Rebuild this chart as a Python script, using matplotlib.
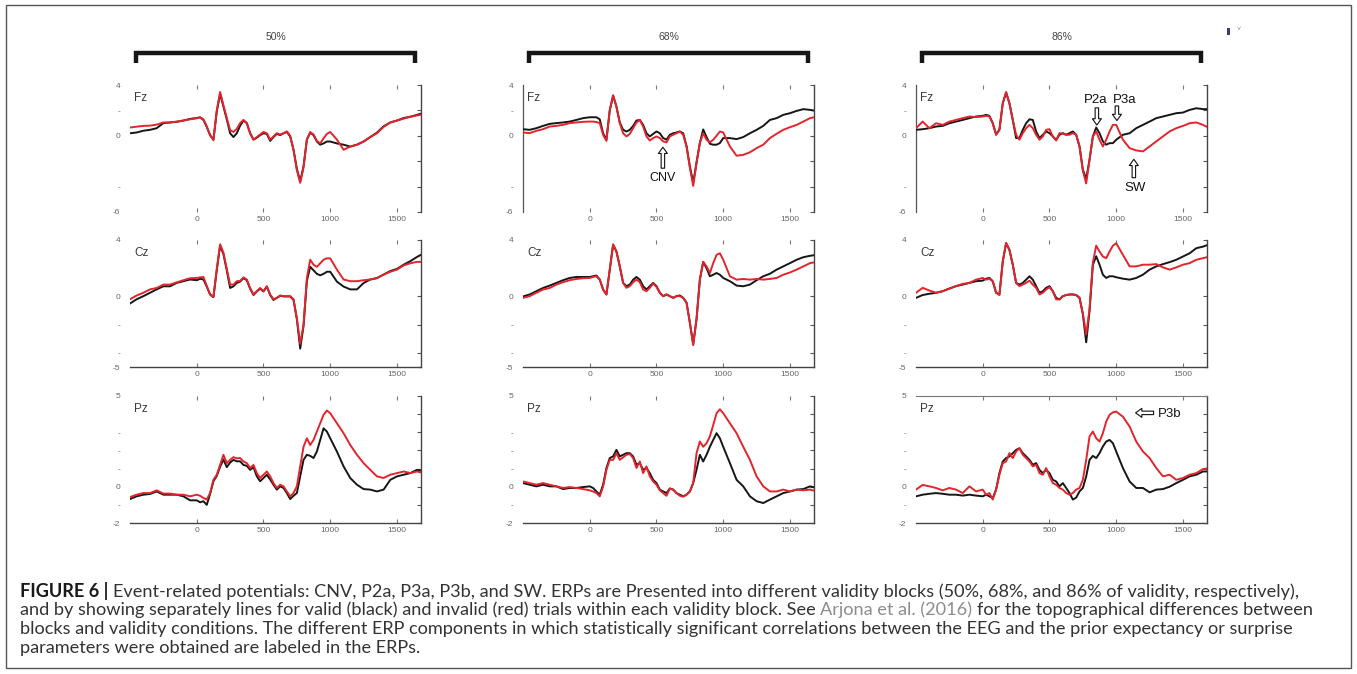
import matplotlib
matplotlib.use("Agg")
import matplotlib.pyplot as plt
from matplotlib.patches import Rectangle

# time axis of the ERPs (ms)
times = [-500, -450, -400, -350, -300, -250, -200, -150, -100, -50,
         0, 25, 50, 75, 100, 125, 150, 175, 200, 225,
         250, 275, 300, 325, 350, 375, 400, 425, 450, 475,
         500, 525, 550, 575, 600, 625, 650, 675, 700, 725,
         750, 775, 800, 825, 850, 875, 900, 925, 950, 975,
         1000, 1050, 1100, 1150, 1200, 1250, 1300, 1350, 1400, 1450,
         1500, 1550, 1600, 1650, 1700]

blocks = ["50%", "68%", "86%"]
channels = ["Fz", "Cz", "Pz"]

# ---- 50% block ----
fz50_valid = [0.2, 0.26, 0.4, 0.47, 0.6, 1.0, 1.05, 1.1, 1.2, 1.33,
              1.4, 1.45, 1.25, 0.7, 0.05, -0.3, 1.9, 3.3, 2.3, 1.3,
              0.2, -0.1, 0.2, 0.8, 1.2, 1.0, 0.2, -0.3, -0.15, 0.05,
              0.2, 0.15, -0.4, -0.1, 0.15, 0.05, 0.2, 0.3, -0.05, -1.1,
              -2.6, -3.6, -2.4, -0.3, 0.25, 0.05, -0.45, -0.7, -0.6, -0.45,
              -0.45, -0.6, -0.7, -0.85, -0.7, -0.45, -0.1, 0.25, 0.75, 1.05,
              1.2, 1.4, 1.5, 1.65, 1.8]
fz50_invalid = [0.65, 0.72, 0.78, 0.8, 0.88, 1.05, 1.05, 1.12, 1.2, 1.3,
                1.38, 1.45, 1.3, 0.75, 0.05, -0.35, 2.0, 3.45, 2.4, 1.4,
                0.45, 0.3, 0.55, 1.0, 1.25, 1.0, 0.2, -0.3, -0.1, 0.1,
                0.3, 0.2, -0.3, -0.05, 0.2, 0.1, 0.2, 0.35, 0.0, -1.1,
                -2.7, -3.7, -2.5, -0.3, 0.3, 0.1, -0.4, -0.6, -0.2, 0.15,
                0.3, -0.3, -1.1, -0.85, -0.7, -0.45, -0.1, 0.2, 0.7, 1.05,
                1.2, 1.35, 1.5, 1.6, 1.7]
cz50_valid = [-0.5, -0.2, 0.02, 0.26, 0.5, 0.72, 0.72, 0.96, 1.08, 1.2,
              1.15, 1.25, 1.2, 0.7, 0.14, -0.05, 1.85, 3.6, 3.0, 1.85,
              0.6, 0.72, 0.96, 1.05, 1.3, 1.15, 0.55, 0.1, 0.35, 0.55,
              0.35, 0.7, 0.1, -0.25, -0.1, 0.05, 0.0, 0.0, 0.0, -0.25,
              -1.6, -3.7, -2.1, 1.1, 2.1, 1.85, 1.6, 1.5, 1.6, 1.75,
              1.75, 1.05, 0.7, 0.5, 0.5, 0.95, 1.2, 1.3, 1.55, 1.8,
              1.95, 2.25, 2.5, 2.8, 3.05]
cz50_invalid = [-0.2, 0.07, 0.26, 0.5, 0.6, 0.84, 0.84, 1.0, 1.15, 1.29,
                1.31, 1.35, 1.38, 0.75, 0.14, -0.02, 1.95, 3.7, 3.1, 1.95,
                0.84, 0.84, 1.08, 1.1, 1.35, 1.2, 0.6, 0.14, 0.37, 0.6,
                0.37, 0.72, 0.14, -0.2, -0.1, 0.07, 0.02, 0.02, 0.02, -0.2,
                -1.55, -3.35, -2.0, 1.3, 2.6, 2.25, 2.1, 2.35, 2.6, 2.7,
                2.7, 1.9, 1.2, 1.08, 1.08, 1.15, 1.2, 1.3, 1.55, 1.75,
                1.9, 2.2, 2.35, 2.45, 2.45]
pz50_valid = [-0.68, -0.53, -0.44, -0.4, -0.26, -0.44, -0.44, -0.44, -0.53, -0.75,
              -0.75, -0.86, -0.8, -1.0, -0.4, 0.3, 0.6, 1.1, 1.5, 1.08,
              1.33, 1.48, 1.4, 1.4, 1.2, 1.15, 0.93, 1.08, 0.57, 0.3,
              0.48, 0.66, 0.4, 0.11, -0.16, 0.02, -0.07, -0.35, -0.68, -0.5,
              -0.35, 0.57, 1.48, 1.76, 1.7, 1.58, 1.94, 2.58, 3.22, 3.04,
              2.67, 1.94, 1.12, 0.48, 0.11, -0.13, -0.16, -0.26, -0.16, 0.38,
              0.57, 0.66, 0.75, 0.93, 0.84]
pz50_invalid = [-0.57, -0.44, -0.35, -0.35, -0.2, -0.38, -0.38, -0.44, -0.44, -0.53,
                -0.44, -0.5, -0.62, -0.71, -0.35, 0.38, 0.66, 1.2, 1.76, 1.3,
                1.48, 1.63, 1.56, 1.58, 1.39, 1.3, 1.03, 1.2, 0.75, 0.48,
                0.66, 0.84, 0.57, 0.2, -0.07, 0.11, 0.02, -0.26, -0.53, -0.35,
                0.02, 1.12, 2.2, 2.67, 2.3, 2.58, 3.04, 3.5, 3.96, 4.2,
                4.05, 3.5, 2.95, 2.3, 1.76, 1.3, 0.93, 0.57, 0.48, 0.66,
                0.75, 0.84, 0.75, 0.84, 0.75]

# ---- 68% block ----
fz68_valid = [0.52, 0.47, 0.6, 0.78, 0.94, 1.0, 1.05, 1.12, 1.25, 1.39,
              1.46, 1.46, 1.46, 1.3, 0.2, -0.3, 2.0, 3.15, 2.3, 1.05,
              0.47, 0.34, 0.47, 0.78, 1.2, 1.25, 0.86, 0.2, -0.05, 0.15,
              0.34, 0.2, -0.18, -0.3, 0.08, 0.2, 0.26, 0.34, 0.2, -0.8,
              -2.4, -3.7, -2.1, -0.55, 0.5, -0.1, -0.63, -0.7, -0.7, -0.57,
              -0.18, -0.18, -0.26, -0.1, 0.2, 0.47, 0.78, 1.25, 1.39, 1.65,
              1.78, 1.96, 2.1, 2.04, 1.95]
fz68_invalid = [0.26, 0.21, 0.39, 0.52, 0.73, 0.78, 0.86, 1.0, 1.05, 1.1,
                1.12, 1.12, 1.08, 1.0, 0.08, -0.4, 2.04, 3.2, 2.3, 1.0,
                0.2, -0.05, 0.15, 0.6, 1.05, 1.25, 0.73, -0.05, -0.37, -0.18,
                -0.05, -0.18, -0.44, -0.52, -0.05, 0.08, 0.2, 0.34, 0.08, -0.84,
                -2.5, -3.95, -2.15, -0.57, 0.2, -0.31, -0.52, -0.31, 0.0, 0.34,
                0.26, -0.84, -1.57, -1.5, -1.3, -0.97, -0.7, -0.18, 0.16, 0.47,
                0.68, 0.86, 1.12, 1.39, 1.5]
cz68_valid = [0.0, 0.14, 0.37, 0.6, 0.77, 0.96, 1.15, 1.31, 1.38, 1.38,
              1.38, 1.43, 1.48, 1.2, 0.5, 0.14, 1.9, 3.65, 3.18, 2.13,
              0.96, 0.73, 0.84, 1.19, 1.38, 1.19, 0.73, 0.49, 0.73, 0.96,
              0.73, 0.26, 0.02, 0.14, 0.02, -0.1, 0.02, 0.07, -0.1, -0.44,
              -1.85, -3.4, -1.6, 1.2, 2.45, 2.0, 1.43, 1.54, 1.66, 1.54,
              1.31, 1.08, 0.77, 0.72, 0.84, 1.15, 1.43, 1.61, 1.9, 2.13,
              2.36, 2.6, 2.78, 2.88, 2.95]
cz68_invalid = [-0.1, 0.02, 0.26, 0.49, 0.6, 0.84, 1.01, 1.15, 1.24, 1.29,
                1.31, 1.38, 1.43, 1.19, 0.49, 0.14, 1.9, 3.7, 3.2, 2.13,
                0.96, 0.61, 0.73, 1.01, 1.19, 1.01, 0.49, 0.37, 0.61, 0.91,
                0.68, 0.26, 0.02, 0.14, 0.02, -0.1, 0.02, 0.02, -0.1, -0.44,
                -1.85, -3.45, -1.6, 1.2, 2.45, 2.13, 1.66, 2.36, 2.95, 3.06,
                2.6, 1.43, 1.19, 1.24, 1.19, 1.24, 1.19, 1.24, 1.31, 1.54,
                1.7, 1.9, 2.13, 2.36, 2.45]
pz68_valid = [0.2, 0.11, 0.02, 0.11, 0.02, 0.02, -0.13, -0.07, -0.07, -0.02,
              0.02, -0.07, -0.26, -0.44, 0.11, 1.03, 1.58, 1.67, 2.03, 1.67,
              1.76, 1.85, 1.85, 1.67, 1.21, 1.3, 0.93, 1.03, 0.75, 0.38,
              0.2, -0.16, -0.26, -0.35, -0.1, -0.16, -0.35, -0.44, -0.53, -0.44,
              -0.26, 0.2, 0.93, 1.76, 1.39, 1.76, 2.2, 2.58, 2.95, 2.67,
              2.2, 1.3, 0.38, 0.02, -0.53, -0.8, -0.9, -0.71, -0.53, -0.35,
              -0.26, -0.16, -0.13, 0.02, -0.07]
pz68_invalid = [0.29, 0.2, 0.11, 0.2, 0.11, 0.02, -0.07, -0.02, -0.07, -0.13,
                -0.2, -0.26, -0.35, -0.53, 0.0, 0.93, 1.48, 1.48, 1.85, 1.48,
                1.62, 1.76, 1.8, 1.58, 1.03, 1.39, 0.75, 1.12, 0.57, 0.29,
                0.11, -0.2, -0.35, -0.5, -0.1, -0.16, -0.35, -0.5, -0.55, -0.44,
                -0.26, 0.2, 1.85, 2.49, 2.2, 2.4, 2.77, 3.4, 4.05, 4.27,
                4.05, 3.5, 2.95, 2.2, 1.48, 0.57, 0.02, -0.26, -0.26, -0.16,
                -0.26, -0.16, -0.2, -0.16, -0.26]

# ---- 86% block ----
fz86_valid = [0.47, 0.52, 0.6, 0.73, 0.78, 0.99, 1.12, 1.25, 1.39, 1.52,
              1.57, 1.65, 1.57, 0.99, 0.1, 0.5, 2.56, 3.4, 2.56, 1.25,
              -0.18, -0.18, 0.47, 0.99, 1.3, 1.25, 0.34, -0.18, 0.08, 0.34,
              0.21, -0.05, -0.31, 0.08, 0.21, 0.08, 0.21, 0.34, 0.08, -0.84,
              -2.67, -3.4, -1.88, -0.05, 0.65, 0.2, -0.44, -0.7, -0.58, -0.58,
              -0.31, 0.08, 0.2, 0.6, 0.86, 1.12, 1.39, 1.52, 1.65, 1.78,
              1.83, 2.04, 2.17, 2.1, 2.1]
fz86_invalid = [0.6, 1.12, 0.6, 0.99, 0.86, 1.12, 1.25, 1.39, 1.52, 1.47,
                1.52, 1.57, 1.52, 0.99, 0.08, 0.45, 2.56, 3.45, 2.56, 1.25,
                0.08, -0.31, 0.21, 0.6, 0.86, 0.6, 0.08, -0.31, -0.05, 0.47,
                0.52, -0.05, -0.37, 0.21, 0.16, 0.08, 0.08, 0.21, 0.08, -0.84,
                -2.75, -3.75, -1.9, -0.05, 0.34, -0.31, -0.84, -0.31, 0.34, 0.86,
                0.86, -0.31, -0.97, -1.15, -1.23, -0.84, -0.44, -0.05, 0.34, 0.6,
                0.78, 0.99, 1.05, 0.86, 0.6]
cz86_valid = [-0.1, 0.1, 0.19, 0.26, 0.37, 0.56, 0.73, 0.84, 0.96, 1.08,
              1.12, 1.26, 1.31, 1.08, 0.26, 0.14, 2.48, 3.77, 3.3, 2.25,
              0.96, 0.84, 0.96, 1.19, 1.43, 1.19, 0.73, 0.26, 0.37, 0.61,
              0.73, 0.37, -0.1, -0.21, 0.02, 0.1, 0.14, 0.14, 0.1, -0.1,
              -1.26, -3.25, -1.03, 2.25, 2.85, 2.25, 1.54, 1.31, 1.43, 1.43,
              1.36, 1.26, 1.19, 1.31, 1.54, 1.9, 2.13, 2.29, 2.43, 2.6,
              2.83, 3.06, 3.42, 3.53, 3.7]
cz86_invalid = [0.26, 0.61, 0.42, 0.26, 0.37, 0.56, 0.73, 0.89, 0.96, 1.19,
                1.31, 1.19, 1.26, 1.08, 0.26, 0.1, 2.48, 3.8, 3.3, 2.25,
                0.96, 0.73, 0.84, 0.96, 1.12, 0.84, 0.61, 0.14, 0.26, 0.49,
                0.66, 0.37, -0.21, -0.21, 0.02, 0.1, 0.14, 0.14, 0.1, -0.1,
                -1.2, -2.7, -0.9, 2.4, 3.6, 3.18, 2.83, 2.71, 3.18, 3.6,
                3.77, 2.95, 2.13, 2.13, 2.25, 2.25, 2.29, 2.06, 1.9, 2.06,
                2.25, 2.36, 2.6, 2.71, 2.83]
pz86_valid = [-0.53, -0.44, -0.39, -0.35, -0.39, -0.44, -0.44, -0.49, -0.44, -0.49,
              -0.53, -0.44, -0.53, -0.62, -0.16, 0.75, 1.39, 1.58, 1.67, 1.85,
              2.03, 2.12, 1.85, 1.67, 1.48, 1.21, 1.3, 0.93, 0.75, 0.93,
              0.75, 0.38, 0.29, 0.02, 0.2, -0.07, -0.35, -0.71, -0.6, -0.26,
              -0.07, 0.57, 1.48, 1.7, 1.58, 1.85, 2.22, 2.49, 2.58, 2.4,
              1.94, 1.03, 0.29, -0.07, -0.07, -0.31, -0.16, -0.13, 0.0, 0.2,
              0.38, 0.57, 0.66, 0.84, 0.84]
pz86_invalid = [-0.16, 0.1, 0.02, -0.07, -0.2, -0.07, -0.16, -0.35, 0.02, -0.26,
                -0.16, -0.44, -0.35, -0.71, -0.16, 0.66, 1.3, 1.39, 1.85, 1.58,
                1.94, 2.12, 1.76, 1.58, 1.39, 1.12, 1.21, 0.75, 0.66, 1.03,
                0.57, 0.2, 0.11, -0.07, -0.16, -0.35, -0.44, -0.35, -0.16, -0.07,
                0.38, 1.48, 2.77, 3.04, 2.67, 2.49, 2.95, 3.59, 3.96, 4.1,
                4.14, 3.86, 3.32, 2.49, 1.94, 1.58, 1.03, 0.57, 0.66, 0.38,
                0.48, 0.66, 0.75, 0.97, 1.03]

valid = [[fz50_valid, cz50_valid, pz50_valid],
         [fz68_valid, cz68_valid, pz68_valid],
         [fz86_valid, cz86_valid, pz86_valid]]
invalid = [[fz50_invalid, cz50_invalid, pz50_invalid],
           [fz68_invalid, cz68_invalid, pz68_invalid],
           [fz86_invalid, cz86_invalid, pz86_invalid]]

ylims = {"Fz": (-6, 4), "Cz": (-5, 4), "Pz": (-2, 5)}
yticks = {"Fz": [-6, -4, -2, 0, 2, 4],
          "Cz": [-5, -4, -2, 0, 4],
          "Pz": [-2, -1, 0, 1, 2, 3, 4, 5]}
ytick_labels = {"Fz": ["-6", "-", "", "0", "-", "4"],
                "Cz": ["-5", "-", "-", "0", "4"],
                "Pz": ["-2", "-", "0", "-", "-", "-", "", "5"]}
xticks = [0, 500, 1000, 1500]

caption = [
    [("FIGURE 6 |", "bold", "#1a1a1a"),
     ("Event-related potentials: CNV, P2a, P3a, P3b, and SW. ERPs are Presented into different validity "
      "blocks (50%, 68%, and 86% of validity, respectively),", "normal", "#333333")],
    [("and by showing separately lines for valid (black) and invalid (red) trials within each validity block. See",
      "normal", "#333333"),
     ("Arjona et al. (2016)", "normal", "#8c8c8c"),
     ("for the topographical differences between", "normal", "#333333")],
    [("blocks and validity conditions. The different ERP components in which statistically significant "
      "correlations between the EEG and the prior expectancy or surprise", "normal", "#333333")],
    [("parameters were obtained are labeled in the ERPs.", "normal", "#333333")],
]

W, H = 1357, 674
plt.rcParams["font.family"] = ["Liberation Sans", "DejaVu Sans"]
cap_family = ["Lato", "Liberation Sans", "DejaVu Sans"]

fig = plt.figure(figsize=(W / 100, H / 100), dpi=100)
fig.patch.set_facecolor("white")

col_left = [130, 523, 916]
row_top = [85, 240, 396]
ax_w, ax_h = 291, 127

BLACK = "#161616"
RED = "#e2252d"

axes = {}
for c in range(3):
    for r, ch in enumerate(channels):
        ax = fig.add_axes([col_left[c] / W, 1 - (row_top[r] + ax_h) / H, ax_w / W, ax_h / H])
        ax.set_facecolor("none")
        ax.plot(times, valid[c][r], color=BLACK, lw=1.4, zorder=3)
        ax.plot(times, invalid[c][r], color=RED, lw=1.4, zorder=4)
        ax.set_xlim(-500, 1680)
        ax.set_ylim(*ylims[ch])

        for s in ["left", "top", "bottom", "right"]:
            ax.spines[s].set_visible(False)
        ax.spines["right"].set_visible(True)
        ax.spines["right"].set_color("#444444")
        ax.spines["right"].set_linewidth(1.0)
        if r > 0:
            ax.spines["bottom"].set_visible(True)
            ax.spines["bottom"].set_color("#444444")
            ax.spines["bottom"].set_linewidth(1.0)
        if r == 0 and c > 0:
            ax.spines["left"].set_visible(True)
            ax.spines["left"].set_color("#555555")
            ax.spines["left"].set_linewidth(0.9)
        if r == 2 and c == 2:
            ax.spines["top"].set_visible(True)
            ax.spines["top"].set_color("#777777")
            ax.spines["top"].set_linewidth(0.8)

        ax.set_xticks(xticks)
        ax.set_xticklabels([str(v) for v in xticks])
        ax.tick_params(axis="x", direction="in", top=True, bottom=True, length=3,
                       width=0.8, color="#777777", labelsize=6, labelcolor="#666666", pad=3)
        ax.set_yticks(yticks[ch])
        ax.set_yticklabels(ytick_labels[ch])
        ax.tick_params(axis="y", direction="in", left=False, right=True, labelleft=True,
                       labelright=False, length=3, width=0.8, color="#555555",
                       labelsize=6, labelcolor="#666666", pad=7)

        ax.text(0.015, 0.895, ch, transform=ax.transAxes, fontsize=8.5, color="#3a3a3a",
                ha="left", va="center")
        axes[(c, r)] = ax

    # block bracket and header above the top panel
    top = axes[(c, 0)]
    top.plot([0.02, 0.02, 0.978, 0.978], [1.17, 1.252, 1.252, 1.17], color=BLACK, lw=3.2,
             transform=top.transAxes, clip_on=False, solid_joinstyle="miter",
             solid_capstyle="butt")
    top.text(0.5, 1.378, blocks[c], transform=top.transAxes, ha="center", va="center",
             fontsize=7.5, color="#444444")


def hollow_arrow(ax, tail, tip):
    ax.annotate("", xy=tip, xytext=tail, annotation_clip=False,
                arrowprops=dict(arrowstyle="simple,head_length=0.45,head_width=0.65,tail_width=0.25",
                                fc="white", ec="#111111", lw=0.8, shrinkA=0, shrinkB=0,
                                mutation_scale=10))


# component labels
ax = axes[(1, 0)]
hollow_arrow(ax, (548, -2.55), (548, -0.9))
ax.text(548, -3.35, "CNV", ha="center", va="center", fontsize=9, color="#111111")

ax = axes[(2, 0)]
hollow_arrow(ax, (855, 2.2), (855, 0.85))
ax.text(845, 2.85, "P2a", ha="center", va="center", fontsize=9.5, color="#111111")
hollow_arrow(ax, (1005, 2.35), (1005, 1.2))
ax.text(1065, 2.85, "P3a", ha="center", va="center", fontsize=9.5, color="#111111")
hollow_arrow(ax, (1132, -3.3), (1132, -1.85))
ax.text(1145, -4.1, "SW", ha="center", va="center", fontsize=9.5, color="#111111")

ax = axes[(2, 2)]
hollow_arrow(ax, (1280, 4.07), (1145, 4.07))
ax.text(1310, 4.02, "P3b", ha="left", va="center", fontsize=9.5, color="#111111")

# little mark at the top right
fig.add_artist(Rectangle((1227 / W, 1 - 35 / H), 3 / W, 7 / H, transform=fig.transFigure,
                         facecolor="#3b3b78", edgecolor="none"))
fig.text(1237 / W, 1 - 29 / H, "˅", fontsize=5, color="#888888", ha="left", va="center")

# outer frame
fig.add_artist(Rectangle((6 / W, 1 - 668 / H), 1345 / W, 663 / H, transform=fig.transFigure,
                         facecolor="none", edgecolor="#555555", lw=1.0))

# caption, fitted to the width of the first line
renderer = fig.canvas.get_renderer()


def text_width(s, size, weight):
    t = fig.text(0, 0, s, fontsize=size, fontweight=weight, family=cap_family)
    w = t.get_window_extent(renderer).width
    t.remove()
    return w


def line_width(pieces, size):
    space = text_width("x x", size, "normal") - text_width("xx", size, "normal")
    return sum(text_width(s, size, wt) for s, wt, _ in pieces) + space * (len(pieces) - 1)


cap_size = 10 * 1280 / line_width(caption[0], 10)
space_w = text_width("x x", cap_size, "normal") - text_width("xx", cap_size, "normal")
baselines = [597, 615.5, 634, 652.5]
for pieces, yb in zip(caption, baselines):
    x = 20
    for s, wt, col in pieces:
        t = fig.text(x / W, 1 - yb / H, s, fontsize=cap_size, fontweight=wt, color=col,
                     family=cap_family, ha="left", va="baseline")
        x += t.get_window_extent(renderer).width + space_w

fig.savefig("out.png", dpi=100, facecolor="white")
